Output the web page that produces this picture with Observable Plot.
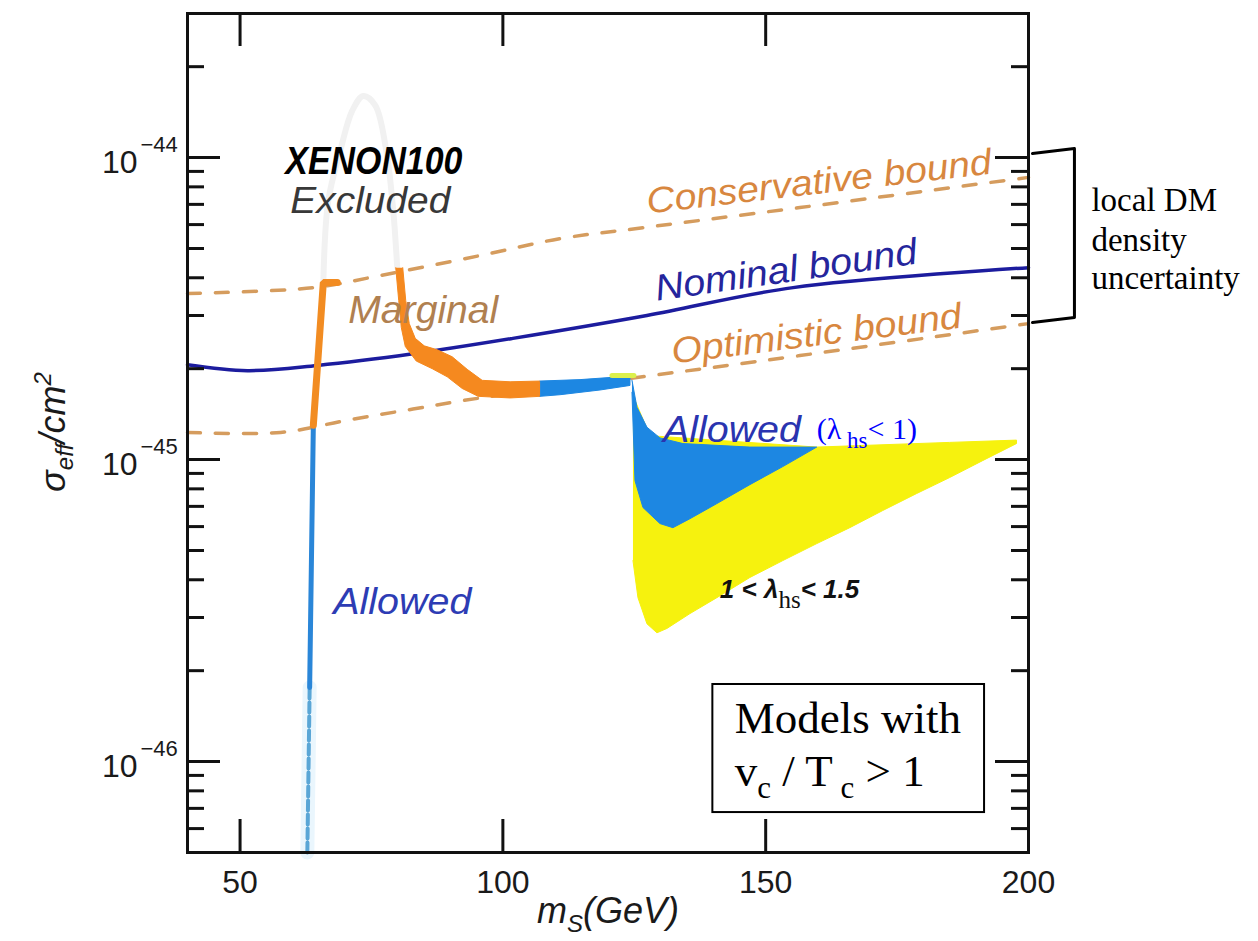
<!DOCTYPE html>
<html><head><meta charset="utf-8">
<script src="https://cdn.jsdelivr.net/npm/d3@7"></script>
<script src="https://cdn.jsdelivr.net/npm/@observablehq/plot@0.6"></script>
<style>html,body{margin:0;padding:0;background:#fff;overflow:hidden;}</style>
</head><body><div id="chart"></div>
<script>
// ---- tick values ----
const xMajorTicks = [50, 100, 150, 200];
const yMajorTicks = [1e-46, 1e-45, 1e-44];
const yMinorTicks = [5e-47, 6e-47, 7e-47, 8e-47, 9e-47,
  2e-46, 3e-46, 4e-46, 5e-46, 6e-46, 7e-46, 8e-46, 9e-46,
  2e-45, 3e-45, 4e-45, 5e-45, 6e-45, 7e-45, 8e-45, 9e-45, 2e-44];

// ---- XENON100 bounds (m_S in GeV, sigma in cm^2) ----
const nominalMass  = [40, 51.4, 64.7, 82.9, 101.9, 127.4, 155.2, 200];
const nominalSigma = [2.06e-45, 1.97e-45, 2.05e-45, 2.24e-45, 2.52e-45, 3.00e-45, 3.71e-45, 4.32e-45];
const conservativeMass  = [40, 64.0, 76.7, 95.7, 110.9, 126.7, 156.5, 200];
const conservativeSigma = [3.55e-45, 3.71e-45, 4.07e-45, 4.74e-45, 5.39e-45, 5.86e-45, 6.83e-45, 8.6e-45];
const optimisticMass  = [40, 57.7, 70.4, 82.9, 95.7, 125.5, 156.5, 200];
const optimisticSigma = [1.23e-45, 1.23e-45, 1.35e-45, 1.47e-45, 1.60e-45, 1.87e-45, 2.21e-45, 2.82e-45];

// ---- model scan regions ----
const ghostMass  = [65.84, 66.79, 69.07, 71.35, 73.44, 75.72, 77.81, 79.14, 79.90];
const ghostSigma = [3.86e-45, 7.20e-45, 1.055e-44, 1.43e-44, 1.60e-44, 1.49e-44, 1.055e-44, 6.68e-45, 4.32e-45];

const resoLowMass  = [62.8, 63.24];
const resoLowSigma = [5e-47, 1.76e-46];
const resoHighMass  = [63.24, 63.94];
const resoHighSigma = [1.76e-46, 1.30e-45];
const resoOrangeMass  = [63.94, 65.84, 68.5];
const resoOrangeSigma = [1.30e-45, 3.86e-45, 3.86e-45];

const orangeMass  = [80.95, 81.52, 82.19, 83.33, 85.04, 87.51, 90.36, 93.21, 96.06, 101.38, 107.08,
                     107.08, 101.38, 95.30, 92.26, 89.41, 86.56, 83.52, 81.43, 80.67, 80.19, 79.62];
const orangeSigma = [4.32e-45, 3.36e-45, 2.82e-45, 2.52e-45, 2.38e-45, 2.31e-45, 2.19e-45, 1.99e-45, 1.83e-45, 1.81e-45, 1.82e-45,
                     1.62e-45, 1.60e-45, 1.62e-45, 1.72e-45, 1.88e-45, 2.00e-45, 2.12e-45, 2.37e-45, 2.74e-45, 3.36e-45, 4.32e-45];

const blueBandMass  = [107.08, 114.68, 122.28, 124.18, 124.18, 118.48, 110.88, 107.08];
const blueBandSigma = [1.82e-45, 1.84e-45, 1.88e-45, 1.88e-45, 1.76e-45, 1.70e-45, 1.64e-45, 1.62e-45];

const greenBitMass  = [120.76, 124.94];
const greenBitSigma = [1.90e-45, 1.90e-45];

const yellowMass  = [124.75, 127.98, 159.71, 184.99, 197.72, 197.72, 191.26, 184.99, 178.72, 172.26, 165.99,
                     159.71, 153.25, 146.98, 140.71, 135.58, 131.21, 129.31, 127.41, 125.70, 124.75];
const yellowSigma = [1.63e-45, 1.20e-45, 1.10e-45, 1.14e-45, 1.16e-45, 1.13e-45, 9.92e-46, 8.72e-46, 7.72e-46, 6.78e-46, 5.95e-46,
                     5.27e-46, 4.63e-46, 4.07e-46, 3.49e-46, 3.09e-46, 2.76e-46, 2.67e-46, 2.86e-46, 3.49e-46, 4.63e-46];

const allowedMass  = [124.56, 125.51, 127.41, 129.88, 134.25, 146.98, 159.71, 153.25, 146.98, 140.71, 135.58, 132.35, 129.88, 126.65, 125.13, 124.56];
const allowedSigma = [1.83e-45, 1.49e-45, 1.28e-45, 1.18e-45, 1.13e-45, 1.10e-45, 1.10e-45, 9.48e-46, 8.26e-46, 7.15e-46, 6.37e-46, 5.95e-46, 6.14e-46, 6.94e-46, 8.52e-46, 1.67e-45];

// ---- annotation bracket ----
const bracketMass  = [200.76, 208.74, 208.74, 200.76];
const bracketSigma = [1.031e-44, 1.071e-44, 2.953e-45, 2.842e-45];

const noteLines = ["local DM", "density", "uncertainty"];
const noteSigma = [6.63e-45, 4.92e-45, 3.68e-45];

const pts = (xs, ys) => xs.map((x, i) => ({m: x, s: ys[i]}));

const sans = "'Liberation Sans', Arial, Helvetica, sans-serif";
const serif = "'Liberation Serif', 'Times New Roman', serif";
const FW = 841, FH = 839;
const dashColor = "#d59c5e";
const orangeText = "#d8873f";

function label(str, opts) {
  return Plot.text([str], {text: d => d, textAnchor: "start", lineAnchor: "bottom", fontFamily: sans, ...opts});
}

const chart = Plot.plot({
  width: 1258, height: 941,
  marginLeft: 187, marginRight: 230, marginTop: 13, marginBottom: 89,
  x: {domain: [40, 200], axis: null},
  y: {type: "log", domain: [5e-47, 3e-44], axis: null},
  style: {background: "white", fontFamily: sans, color: "#111"},
  marks: [
    Plot.line(pts(ghostMass, ghostSigma), {x: "m", y: "s", stroke: "#f1f1f1", strokeWidth: 6, curve: "catmull-rom"}),
    Plot.line(pts(optimisticMass, optimisticSigma), {x: "m", y: "s", stroke: dashColor, strokeWidth: 3.5, strokeDasharray: "13,15", curve: "catmull-rom"}),
    Plot.line(pts(conservativeMass, conservativeSigma), {x: "m", y: "s", stroke: dashColor, strokeWidth: 3.5, strokeDasharray: "13,15", curve: "catmull-rom"}),
    Plot.line(pts(nominalMass, nominalSigma), {x: "m", y: "s", stroke: "#1c1c9e", strokeWidth: 3.5, curve: "catmull-rom"}),
    Plot.line(pts(yellowMass, yellowSigma), {x: "m", y: "s", fill: "#f6f20e", stroke: "#f6f20e", strokeWidth: 1}),
    Plot.line(pts(allowedMass, allowedSigma), {x: "m", y: "s", fill: "#1d87e2", stroke: "#1d87e2", strokeWidth: 1}),
    Plot.line(pts(resoLowMass, resoLowSigma), {x: "m", y: "s", stroke: "#eaf6fd", strokeWidth: 14}),
    Plot.line(pts(resoLowMass, resoLowSigma), {x: "m", y: "s", stroke: "#5aa6d6", strokeWidth: 4, strokeDasharray: "10,4"}),
    Plot.line(pts(resoHighMass, resoHighSigma), {x: "m", y: "s", stroke: "#2a86d8", strokeWidth: 5}),
    Plot.line(pts(resoOrangeMass, resoOrangeSigma), {x: "m", y: "s", stroke: "#f28c22", strokeWidth: 7, strokeLinejoin: "miter"}),
    Plot.line(pts(orangeMass, orangeSigma), {x: "m", y: "s", fill: "#f5891f", stroke: "#f5891f", strokeWidth: 1}),
    Plot.line(pts(blueBandMass, blueBandSigma), {x: "m", y: "s", fill: "#1d87e2", stroke: "#1d87e2", strokeWidth: 1}),
    Plot.line(pts(greenBitMass, greenBitSigma), {x: "m", y: "s", stroke: "#dcf04c", strokeWidth: 5}),

    // in-plot labels
    label("XENON100", {x: 58.62, y: 8.85e-45, fontSize: 38, fontWeight: "bold", fontStyle: "italic", fill: "#000"}),
    label("Excluded", {x: 59.57, y: 6.53e-45, fontSize: 36, fontStyle: "italic", fill: "#383838"}),
    label("Marginal", {x: 70.59, y: 2.84e-45, fontSize: 38, fontStyle: "italic", fill: "#b08050"}),
    label("Conservative bound", {x: 127.6, y: 6.53e-45, fontSize: 36, fontStyle: "italic", fill: orangeText, rotate: -6.6}),
    label("Nominal bound", {x: 129.31, y: 3.36e-45, fontSize: 37, fontStyle: "italic", fill: "#25259c", rotate: -8.1}),
    label("Optimistic bound", {x: 132.35, y: 2.08e-45, fontSize: 36, fontStyle: "italic", fill: orangeText, rotate: -7.1}),
    label("Allowed", {x: 67.74, y: 3.09e-46, fontSize: 37, fontStyle: "italic", fill: "#2d3cb4"}),
    label("Allowed", {x: 130.45, y: 1.14e-45, fontSize: 37, fontStyle: "italic", fill: "#2a34b0"}),
    label("(λhs< 1)", {x: 159.71, y: 1.17e-45, fontSize: 30, fontFamily: serif, fill: "#0000ff"}),
    label("1 < λhs< 1.5", {x: 141.28, y: 3.49e-46, fontSize: 26, fontWeight: "bold", fontStyle: "italic", fill: "#111"}),

    // box
    Plot.rect([0], {x1: 139.95, x2: 191.64, y1: 6.78e-47, y2: 1.80e-46, fill: "white", stroke: "black", strokeWidth: 2}),
    label("Models with", {x: 144.13, y: 1.24e-46, fontSize: 45, fontFamily: serif, fill: "#000"}),
    label("vc / T c > 1", {x: 144.13, y: 8.32e-47, fontSize: 45, fontFamily: serif, fill: "#000"}),

    // bracket + note
    Plot.line(pts(bracketMass, bracketSigma), {x: "m", y: "s", stroke: "black", strokeWidth: 3}),
    Plot.text(noteLines, {x: 211.97, y: (d, i) => noteSigma[i], text: d => d, textAnchor: "start", lineAnchor: "bottom", fontFamily: serif, fontSize: 33, fill: "#000"}),

    // ticks
    Plot.tickY(yMajorTicks, {y: d => d, insetRight: FW - 33, strokeWidth: 3, stroke: "#111"}),
    Plot.tickY(yMajorTicks, {y: d => d, insetLeft: FW - 33, strokeWidth: 3, stroke: "#111"}),
    Plot.tickY(yMinorTicks, {y: d => d, insetRight: FW - 17, strokeWidth: 3, stroke: "#111"}),
    Plot.tickY(yMinorTicks, {y: d => d, insetLeft: FW - 17, strokeWidth: 3, stroke: "#111"}),
    Plot.tickX(xMajorTicks, {x: d => d, insetTop: FH - 33, strokeWidth: 3, stroke: "#111"}),
    Plot.tickX(xMajorTicks, {x: d => d, insetBottom: FH - 33, strokeWidth: 3, stroke: "#111"}),

    // tick labels
    Plot.text(xMajorTicks, {x: d => d, frameAnchor: "bottom", text: d => String(d), dy: 40, lineAnchor: "bottom", fontSize: 32, fill: "#1a1a1a"}),
    Plot.text(yMajorTicks, {y: d => d, frameAnchor: "left", text: () => "10", textAnchor: "end", dx: -50, dy: 15, lineAnchor: "bottom", fontSize: 32, fill: "#1a1a1a"}),
    Plot.text(yMajorTicks, {y: d => d, frameAnchor: "left", text: d => "−" + Math.round(-Math.log10(d)), textAnchor: "start", dx: -47, dy: -6, lineAnchor: "bottom", fontSize: 22, fill: "#1a1a1a"}),

    // axis titles
    Plot.text(["σ"], {frameAnchor: "left", text: d => d, dx: -123, dy: -1, rotate: -90, textAnchor: "middle", lineAnchor: "bottom", fontSize: 36, fontStyle: "italic", fill: "#1a1a1a"}),
    Plot.text(["m"], {frameAnchor: "bottom", text: d => d, dy: 70, textAnchor: "middle", lineAnchor: "bottom", fontSize: 36, fontStyle: "italic", fill: "#1a1a1a"}),

    Plot.frame({stroke: "#111", strokeWidth: 3})
  ]
});

document.getElementById("chart").appendChild(chart);

// ---- rich text (sub/superscripts) and widths, matched by content ----
const SVGNS = "http://www.w3.org/2000/svg";
const richParts = {
  "(λhs< 1)": [{t: "(λ"}, {t: " hs", shift: 9, size: 23}, {t: "< 1)", shift: 0}],
  "1 < λhs< 1.5": [{t: "1 < λ"}, {t: "hs", shift: 10, size: 25, family: serif, weight: "normal", style: "normal"}, {t: "< 1.5", shift: 0}],
  "vc / T c > 1": [{t: "v"}, {t: "c", shift: 12, size: 31}, {t: " / T", shift: 0}, {t: " c", shift: 12, size: 31}, {t: " > 1", shift: 0}],
  "σ": [{t: "σ"}, {t: "eff", shift: 8, size: 24}, {t: "/cm", shift: 0}, {t: "2", shift: -14, size: 24}],
  "m": [{t: "m"}, {t: "S", shift: 9, size: 24}, {t: "(GeV)", shift: 0}]
};
const widths = {
  "XENON100": 177, "Excluded": 160, "Marginal": 150, "Conservative bound": 347,
  "Nominal bound": 264, "Optimistic bound": 292, "Allowed": 138
};
chart.querySelectorAll("text").forEach(t => {
  if (t.querySelector("tspan")) return;
  const key = t.textContent;
  const parts = richParts[key];
  if (parts) {
    t.textContent = "";
    let cur = 0;
    for (const p of parts) {
      const ts = document.createElementNS(SVGNS, "tspan");
      const target = p.shift || 0;
      if (target !== cur) ts.setAttribute("dy", target - cur);
      cur = target;
      if (p.size) ts.setAttribute("font-size", p.size);
      if (p.family) ts.setAttribute("font-family", p.family);
      if (p.weight) ts.setAttribute("font-weight", p.weight);
      if (p.style) ts.setAttribute("font-style", p.style);
      ts.textContent = p.t;
      t.appendChild(ts);
    }
  }
  if (widths[key]) {
    t.setAttribute("textLength", widths[key]);
    t.setAttribute("lengthAdjust", "spacingAndGlyphs");
  }
});
</script>
</body></html>
